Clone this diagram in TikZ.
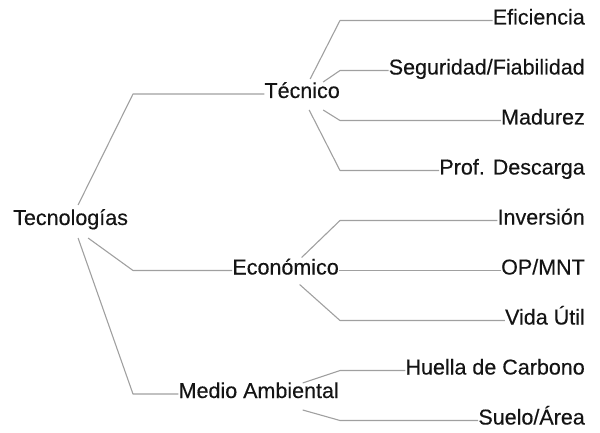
\documentclass[tikz,border=0pt]{standalone}
\usepackage{fontspec}
\setmainfont{Liberation Sans}[FakeBold=0.35]
\usetikzlibrary{calc}
\definecolor{linegray}{RGB}{160,160,160}
\definecolor{txt}{RGB}{20,20,20}
\tikzset{
  lbl/.style={inner sep=0pt, text=txt, font=\fontsize{21.5}{24}\selectfont,
              text height=0.95em, text depth=0.15em},
  conn/.style={draw=linegray, line width=1.1pt, line join=round}
}
\begin{document}
\begin{tikzpicture}[x=1pt,y=-1pt]
\path[use as bounding box] (0,0) rectangle (600,433);
% root
\node[lbl, anchor=west] (root) at (13,221) {Tecnologías};
% level 2
\node[lbl, anchor=east] (tec) at (340,94) {Técnico};
\node[lbl, anchor=east] (eco) at (339,270.5) {Económico};
\node[lbl, anchor=east] (med) at (339,394) {Medio Ambiental};
% level 3
\node[lbl, anchor=east] (efi) at (585,20.5) {Eficiencia};
\node[lbl, anchor=east] (seg) at (585,70.5) {Seguridad/Fiabilidad};
\node[lbl, anchor=east] (mad) at (585,120.5) {Madurez};
\node[lbl, anchor=east] (pro) at (585,170.5) {Prof. Descarga};
\node[lbl, anchor=east] (inv) at (585,220.5) {Inversión};
\node[lbl, anchor=east] (opm) at (585,270.5) {OP/MNT};
\node[lbl, anchor=east] (vid) at (585,320.5) {Vida Útil};
\node[lbl, anchor=east] (hue) at (585,370.5) {Huella de Carbono};
\node[lbl, anchor=east] (sue) at (585,420.5) {Suelo/Área};
% corners
\coordinate (cT) at (133,94);
\coordinate (cE) at (133,270.5);
\coordinate (cM) at (133,394);
\coordinate (k1) at (340,20.5);
\coordinate (k2) at (340,70.5);
\coordinate (k3) at (340,120.5);
\coordinate (k4) at (340,170.5);
\coordinate (k5) at (340,220.5);
\coordinate (k7) at (340,320.5);
\coordinate (k8) at (340,370.5);
\coordinate (k9) at (340,420.5);
% root connectors
\draw[conn] ($(root.center)+(7.5,-16)$) -- (cT) -- (tec.west);
\draw[conn] ($(root.center)+(17.5,17)$) -- (cE) -- (eco.west);
\draw[conn] ($(root.center)+(7.5,17)$) -- (cM) -- (med.west);
% Técnico
\draw[conn] ($(tec.center)+(8,-15)$) -- (k1) -- (efi.west);
\draw[conn] ($(tec.center)+(21,-12)$) -- (k2) -- (seg.west);
\draw[conn] ($(tec.center)+(21,16)$) -- (k3) -- (mad.west);
\draw[conn] ($(tec.center)+(7,16)$) -- (k4) -- (pro.west);
% Económico
\draw[conn] ($(eco.center)+(16,-13)$) -- (k5) -- (inv.west);
\draw[conn] (eco.east) -- (opm.west);
\draw[conn] ($(eco.center)+(14,14)$) -- (k7) -- (vid.west);
% Medio Ambiental
\draw[conn] ($(med.center)+(44,-11)$) -- (k8) -- (hue.west);
\draw[conn] ($(med.center)+(44,16)$) -- (k9) -- (sue.west);
\end{tikzpicture}
\end{document}
